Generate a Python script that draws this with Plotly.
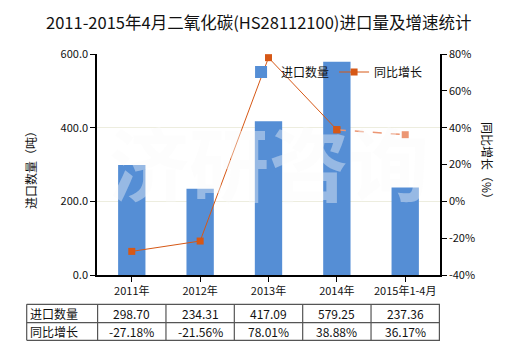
import plotly.graph_objects as go

categories = ["2011年", "2012年", "2013年", "2014年", "2015年1-4月"]
import_qty = [298.70, 234.31, 417.09, 579.25, 237.36]
growth = [-27.18, -21.56, 78.01, 38.88, 36.17]
qty_labels = ["298.70", "234.31", "417.09", "579.25", "237.36"]
growth_labels = ["-27.18%", "-21.56%", "78.01%", "38.88%", "36.17%"]
row_names = ["进口数量", "同比增长"]
left_ticks = [0, 200, 400, 600]
left_ticktext = ["0.0", "200.0", "400.0", "600.0"]
right_ticks = [-40, -20, 0, 20, 40, 60, 80]
right_ticktext = ["-40%", "-20%", "0%", "20%", "40%", "60%", "80%"]
title_text = "2011-2015年4月二氧化碳(HS28112100)进口量及增速统计"

FONT = "Noto Sans CJK SC, Microsoft YaHei, sans-serif"
BAR_C = "rgb(85,142,213)"
LINE_C = "rgb(214,88,22)"
LIGHT_C = "rgb(236,150,115)"

W, H = 520, 350
L, R, T, B = 97, 80, 54, 75
pw, ph = W - L - R, H - T - B
def px2paper(x, y):
    return (x - L) / pw, (H - B - y) / ph

fig = go.Figure()
fig.add_trace(go.Bar(x=categories, y=import_qty, name="进口数量",
                     marker=dict(color=BAR_C, line=dict(width=0)), width=0.4,
                     yaxis="y"))
fig.add_trace(go.Scatter(x=categories[:4], y=growth[:4], name="同比增长",
                         mode="lines+markers", yaxis="y2",
                         line=dict(color=LINE_C, width=1),
                         marker=dict(symbol="square", size=7, color=LINE_C)))
fig.add_trace(go.Scatter(x=categories[3:], y=growth[3:], showlegend=False,
                         mode="lines+markers", yaxis="y2",
                         line=dict(color=LIGHT_C, width=1.5, dash="dash"),
                         marker=dict(symbol="square", size=7,
                                     color=[LINE_C, LIGHT_C])))

annotations = []
# watermark
annotations.append(dict(text="<b>济研咨询</b>", x=0.5, y=0.52, xref="paper", yref="paper",
                        showarrow=False, font=dict(family=FONT, size=80,
                                                   color="rgba(250,250,250,0.4)")))

def pa(text, x, y, **kw):
    px, py = px2paper(x, y)
    d = dict(text=text, x=px, y=py, xref="paper", yref="paper", showarrow=False,
             xanchor="center", yanchor="middle")
    d.update(kw)
    annotations.append(d)

pa(title_text, 258, 22, font=dict(family=FONT, size=16.5, color="#111"))
pa("进口数量（吨）", 30, 167, textangle=-90, font=dict(family=FONT, size=12, color="#111"))
pa("同比增长（%）", 488, 163, textangle=90, font=dict(family=FONT, size=12, color="#111"))

# table
_, y_top = px2paper(0, 304.3)
_, y_mid = px2paper(0, 322.7)
_, y_bot = px2paper(0, 340.3)
x_left, _ = px2paper(26.7, 0)
x_first_text, _ = px2paper(28, 0)
_, r1 = px2paper(0, 313.5)
_, r2 = px2paper(0, 331.5)

shapes = []
line_style = dict(color="#555", width=1.2)
for yy in (y_top, y_mid, y_bot):
    shapes.append(dict(type="line", xref="paper", yref="paper", x0=x_left, x1=1,
                       y0=yy, y1=yy, line=line_style))
shapes.append(dict(type="line", xref="paper", yref="paper", x0=x_left, x1=x_left,
                   y0=y_top, y1=y_bot, line=line_style))
for i in range(len(categories) + 1):
    shapes.append(dict(type="line", xref="x", yref="paper", x0=i - 0.5, x1=i - 0.5,
                       y0=y_top, y1=y_bot, line=line_style))

for name, yy in zip(row_names, (r1, r2)):
    annotations.append(dict(text=name, x=x_first_text, y=yy, xref="paper", yref="paper",
                            xanchor="left", yanchor="middle", showarrow=False,
                            font=dict(family=FONT, size=12, color="#111")))
for i, c in enumerate(categories):
    annotations.append(dict(text=qty_labels[i], x=c, y=r1, xref="x", yref="paper",
                            xanchor="center", yanchor="middle", showarrow=False,
                            font=dict(family=FONT, size=12, color="#111")))
    annotations.append(dict(text=growth_labels[i], x=c, y=r2, xref="x", yref="paper",
                            xanchor="center", yanchor="middle", showarrow=False,
                            font=dict(family=FONT, size=12, color="#111")))

fig.update_layout(
    width=W, height=H,
    margin=dict(l=L, r=R, t=T, b=B, pad=0),
    paper_bgcolor="white", plot_bgcolor="white",
    font=dict(family=FONT, size=11, color="#111"),
    showlegend=True,
    legend=dict(orientation="h", x=0.42, y=(H - B - 72) / ph, xanchor="left",
                yanchor="middle", bgcolor="rgba(0,0,0,0)",
                font=dict(family=FONT, size=12, color="#111")),
    xaxis=dict(showline=True, linecolor="black", linewidth=1.5, ticks="outside",
               ticklen=5, tickcolor="black", showgrid=False,
               tickfont=dict(family=FONT, size=11)),
    yaxis=dict(range=[0, 600], tickmode="array", tickvals=left_ticks,
               ticktext=left_ticktext,
               showline=True, linecolor="black", linewidth=1.5, ticks="outside",
               ticklen=5, tickcolor="black", showgrid=True, gridcolor="#EDEDDF",
               zeroline=False, tickfont=dict(family=FONT, size=11)),
    yaxis2=dict(range=[-40, 80], tickmode="array", tickvals=right_ticks,
                ticktext=right_ticktext, overlaying="y", side="right", showline=True,
                linecolor="black", linewidth=1.5, ticks="outside", ticklen=5,
                tickcolor="black", showgrid=False, zeroline=False,
                tickfont=dict(family=FONT, size=11)),
    shapes=shapes,
    annotations=annotations,
)

fig.write_html("out.html")
